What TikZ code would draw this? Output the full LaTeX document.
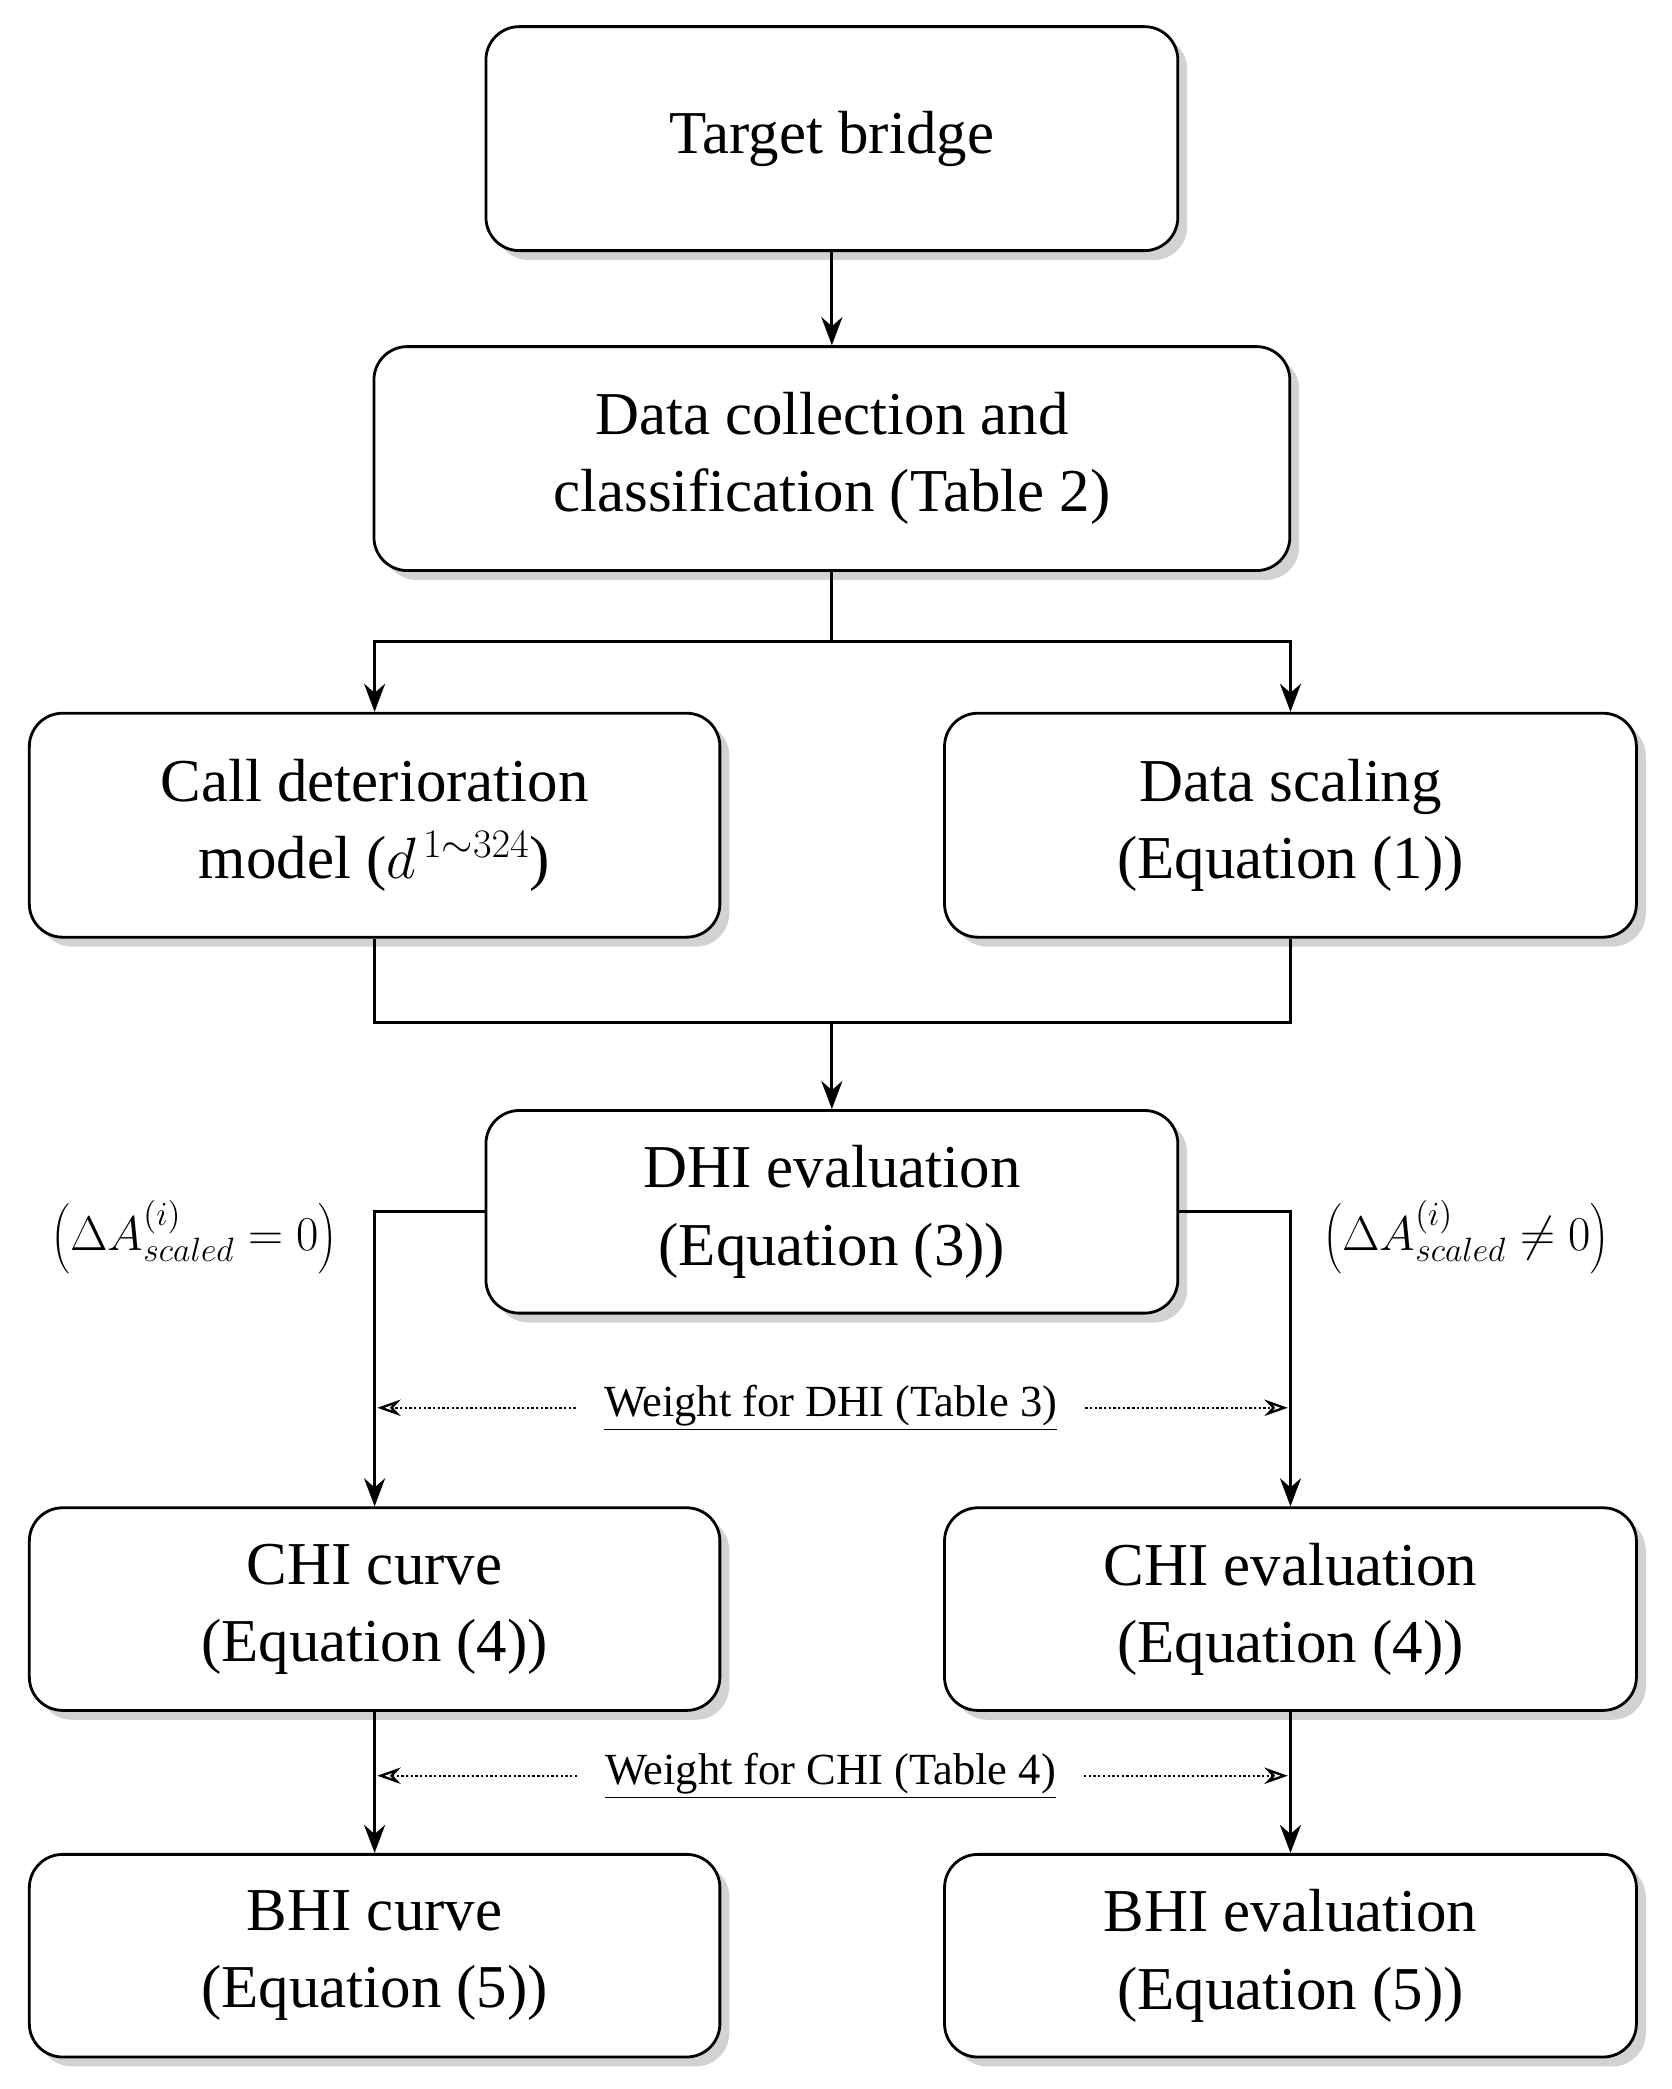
\documentclass[tikz,border=0pt]{standalone}
\usepackage{fontspec}
\setmainfont{Liberation Serif}
\usetikzlibrary{shadows,arrows.meta}
\begin{document}
\begin{tikzpicture}[x=0.02cm,y=-0.02cm,
 box/.style={draw,line width=1.2pt,rounded corners=0.5cm,fill=white,drop shadow={shadow xshift=4pt,shadow yshift=-4pt,fill=black!35},align=center,font=\fontsize{26}{33}\selectfont,inner sep=0pt},
 arr/.style={line width=1.2pt,-{Stealth[length=12pt,width=9pt]}},
 ln/.style={line width=1.2pt},
 dot/.style={densely dotted,line width=1pt,-{Stealth[length=10pt,width=7pt,open]}},
 wl/.style={font=\fontsize{19}{22}\selectfont}]
\useasboundingbox (0,0) rectangle (1254,1567);
\node[box,minimum width=519*0.02cm,minimum height=168*0.02cm] (tb) at (624,104) {Target bridge};
\node[box,minimum width=687*0.02cm,minimum height=168*0.02cm] (dc) at (624,344) {Data collection and\\classification (Table 2)};
\node[box,minimum width=518*0.02cm,minimum height=168*0.02cm] (cd) at (281,619) {Call deterioration\\model ($d^{\,1\sim324}$)};
\node[box,minimum width=519*0.02cm,minimum height=168*0.02cm] (ds) at (968,619) {Data scaling\\(Equation (1))};
\node[box,minimum width=519*0.02cm,minimum height=152*0.02cm] (dhi) at (624,909) {DHI evaluation\\(Equation (3))};
\node[box,minimum width=518*0.02cm,minimum height=152*0.02cm] (cc) at (281,1207) {CHI curve\\(Equation (4))};
\node[box,minimum width=519*0.02cm,minimum height=152*0.02cm] (ce) at (968,1207) {CHI evaluation\\(Equation (4))};
\node[box,minimum width=518*0.02cm,minimum height=152*0.02cm] (bc) at (281,1467) {BHI curve\\(Equation (5))};
\node[box,minimum width=519*0.02cm,minimum height=152*0.02cm] (be) at (968,1467) {BHI evaluation\\(Equation (5))};
\coordinate (s1) at (624,481);
\coordinate (m1) at (624,767);
\draw[arr] (tb) -- (dc);
\draw[ln] (dc) -- (s1);
\draw[arr] (s1) -| (cd);
\draw[arr] (s1) -| (ds);
\draw[ln] (cd) |- (m1) -| (ds);
\draw[arr] (m1) -- (dhi);
\draw[arr] (dhi.west |- 0,909) -| (cc);
\draw[arr] (dhi.east |- 0,909) -| (ce);
\draw[arr] (cc) -- (bc);
\draw[arr] (ce) -- (be);
\node[wl] (w1) at (623,1056) {\underline{Weight for DHI (Table 3)}};
\node[wl] (w2) at (623,1332) {\underline{Weight for CHI (Table 4)}};
\draw[dot] (w1.west) ++(-15,0) -- (283,1056);
\draw[dot] (w1.east) ++(15,0) -- (966,1056);
\draw[dot] (w2.west) ++(-15,0) -- (283,1332);
\draw[dot] (w2.east) ++(15,0) -- (966,1332);
\node[font=\fontsize{22}{24}\selectfont] (c1) at (146,928) {$\left(\Delta A^{(i)}_{scaled}=0\right)$};
\node[font=\fontsize{22}{24}\selectfont] (c2) at (1100,928) {$\left(\Delta A^{(i)}_{scaled}\neq0\right)$};
\end{tikzpicture}
\end{document}
